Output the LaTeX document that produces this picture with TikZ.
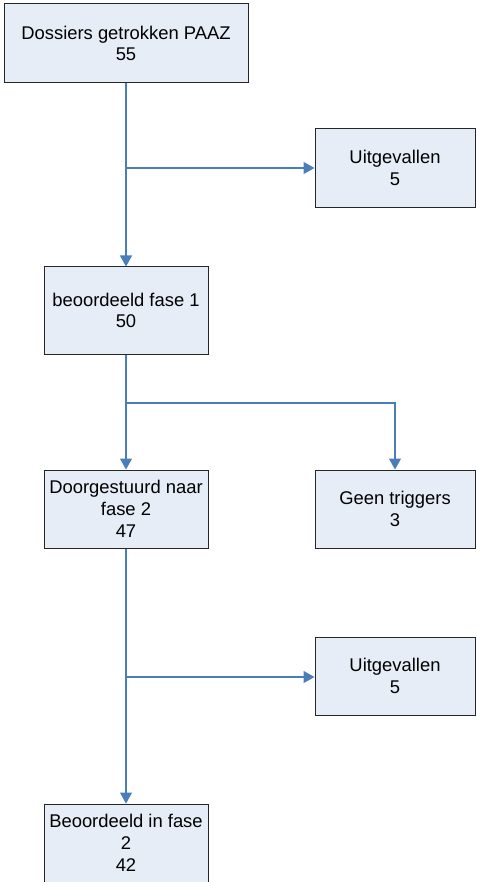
\documentclass[tikz,border=0pt]{standalone}
\usepackage{fontspec}
\setmainfont{Liberation Sans}
\usetikzlibrary{arrows.meta}
\definecolor{boxfill}{RGB}{231,237,247}
\definecolor{linkblue}{RGB}{74,126,187}
\tikzset{
  flowbox/.style={draw=black!85, line width=1pt, fill=boxfill, align=center,
    font=\fontsize{18.4}{21.7}\selectfont, inner sep=0pt},
  link/.style={draw=linkblue, line width=1.2pt, -{Triangle[width=12pt,length=11pt]}},
  plain/.style={draw=linkblue, line width=1.2pt}
}
\begin{document}
\begin{tikzpicture}[x=1pt,y=-1pt]
\useasboundingbox (0,0) rectangle (476,882);
\node[flowbox, minimum width=244pt, minimum height=79pt] (b0) at (126,43.5) {Dossiers getrokken PAAZ\\55};
\node[flowbox, minimum width=160pt, minimum height=79pt] (u1) at (395,168) {Uitgevallen\\5};
\node[flowbox, minimum width=164pt, minimum height=87pt] (b1) at (126,310.5) {beoordeeld fase 1\\50};
\node[flowbox, minimum width=164pt, minimum height=78pt] (d2) at (126,509) {Doorgestuurd naar\\fase 2\\47};
\node[flowbox, minimum width=160pt, minimum height=78pt] (g) at (395,509) {Geen triggers\\3};
\node[flowbox, minimum width=160pt, minimum height=78pt] (u2) at (395,676) {Uitgevallen\\5};
\node[flowbox, minimum width=164pt, minimum height=78pt] (b2) at (126,843) {Beoordeeld in fase\\2\\42};
\coordinate (j1) at (126,168);
\coordinate (j2) at (126,403);
\coordinate (j3) at (126,677);
\draw[link] (b0.south) -- (b1.north);
\draw[link] (j1) -- (u1.west);
\draw[link] (b1.south) -- (d2.north);
\draw[link] (j2) -| (g.north);
\draw[link] (d2.south) -- (b2.north);
\draw[link] (j3) -- (u2.west |- j3);
\end{tikzpicture}
\end{document}
